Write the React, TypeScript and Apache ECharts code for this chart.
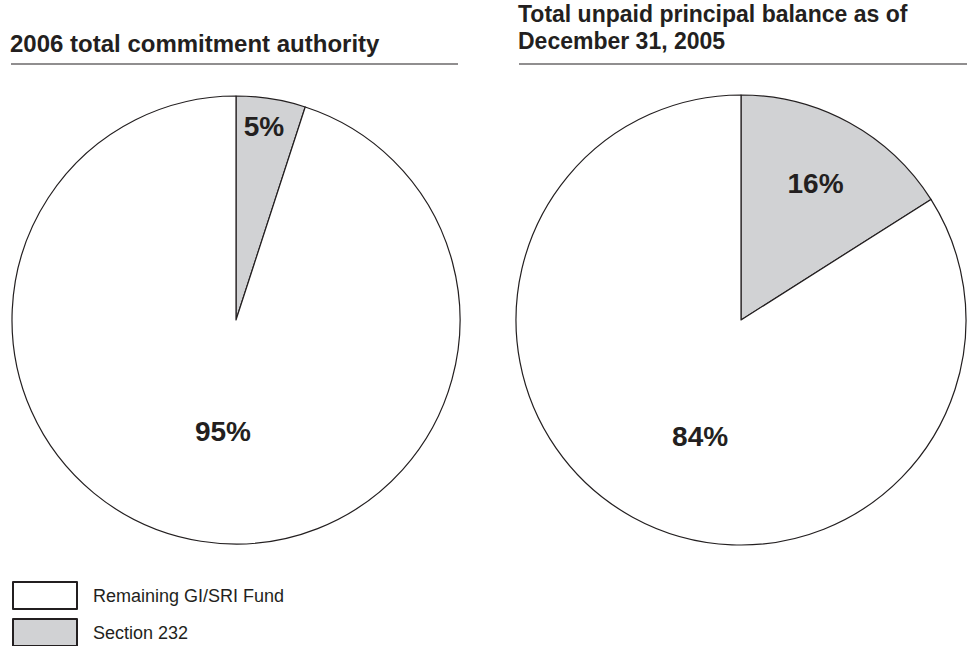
import React, { useEffect, useRef } from "react";
import * as echarts from "echarts";

const categories = ["Section 232", "Remaining GI/SRI Fund"];
const legendOrder = ["Remaining GI/SRI Fund", "Section 232"];
const commitmentValues = [5, 95];
const unpaidValues = [16, 84];
const leftTitle = "2006 total commitment authority";
const rightTitleLines = ["Total unpaid principal balance as of", "December 31, 2005"];

// label placement style: [angle in degrees clockwise from top, fraction of radius]
const labelPlacement = [
  [[8.2, 0.875], [186.7, 0.5]],
  [[28.7, 0.69], [199.3, 0.55]],
];

const INK = "#231f20";
const GREY = "#d1d2d4";
const FONT = "'Liberation Sans', Arial, Helvetica, sans-serif";

export default function App() {
  const ref = useRef<HTMLDivElement>(null);
  useEffect(() => {
    if (!ref.current) return;
    const chart = echarts.init(ref.current, null, { renderer: "svg" });
    const centers = [
      [236, 320],
      [741, 320],
    ];
    const radii = [224, 225];
    const seriesData = [commitmentValues, unpaidValues];
    const names = [leftTitle, rightTitleLines.join(" ")];
    const makeSeries = (i: number) => ({
      type: "pie",
      name: names[i],
      center: centers[i],
      radius: [0, radii[i]],
      startAngle: 90,
      clockwise: true,
      silent: true,
      itemStyle: { borderColor: INK, borderWidth: 1.2 },
      label: {
        show: true,
        position: "inside",
        formatter: "{c}%",
        fontFamily: FONT,
        fontWeight: "bold",
        fontSize: 28,
        color: INK,
      },
      labelLine: { show: false },
      labelLayout: (params: any) => {
        const [ang, frac] = labelPlacement[i][params.dataIndex];
        const a = (ang * Math.PI) / 180;
        const r = radii[i] * frac;
        return {
          x: centers[i][0] + r * Math.sin(a),
          y: centers[i][1] - r * Math.cos(a),
          align: "center",
          verticalAlign: "middle",
        };
      },
      data: categories.map((c, k) => ({
        name: c,
        value: seriesData[i][k],
        itemStyle: { color: k === 0 ? GREY : "#ffffff" },
      })),
    });
    const titleStyle = { fontFamily: FONT, fontWeight: "bold", fontSize: 24, color: INK, lineHeight: 22 };
    const rightStyle = { ...titleStyle, fontSize: 23 };
    chart.setOption({
      animation: false,
      backgroundColor: "#ffffff",
      textStyle: { fontFamily: FONT },
      title: [
        { text: leftTitle, left: 10, top: 32, textStyle: titleStyle, padding: 0 },
        { text: rightTitleLines[0], left: 518, top: 3, textStyle: rightStyle, padding: 0 },
        { text: rightTitleLines[1], left: 518, top: 30, textStyle: rightStyle, padding: 0 },
      ],
      legend: {
        orient: "vertical",
        left: 12,
        top: 581,
        height: 120,
        padding: 0,
        itemWidth: 64,
        itemHeight: 27,
        itemGap: 8,
        icon: "rect",
        data: legendOrder,
        selectedMode: false,
        textStyle: { fontFamily: FONT, fontSize: 18, color: INK, padding: [0, 0, 0, 11] },
      },
      graphic: [
        { type: "line", shape: { x1: 11, y1: 64, x2: 458, y2: 64 }, style: { stroke: INK, lineWidth: 1.2 } },
        { type: "line", shape: { x1: 519, y1: 64, x2: 967, y2: 64 }, style: { stroke: INK, lineWidth: 1.2 } },
      ],
      series: [makeSeries(0), makeSeries(1)],
    });
    return () => chart.dispose();
  }, []);
  return (
    <div
      ref={ref}
      style={{ position: "fixed", left: 0, top: 0, width: 974, height: 646, background: "#fff" }}
    />
  );
}
